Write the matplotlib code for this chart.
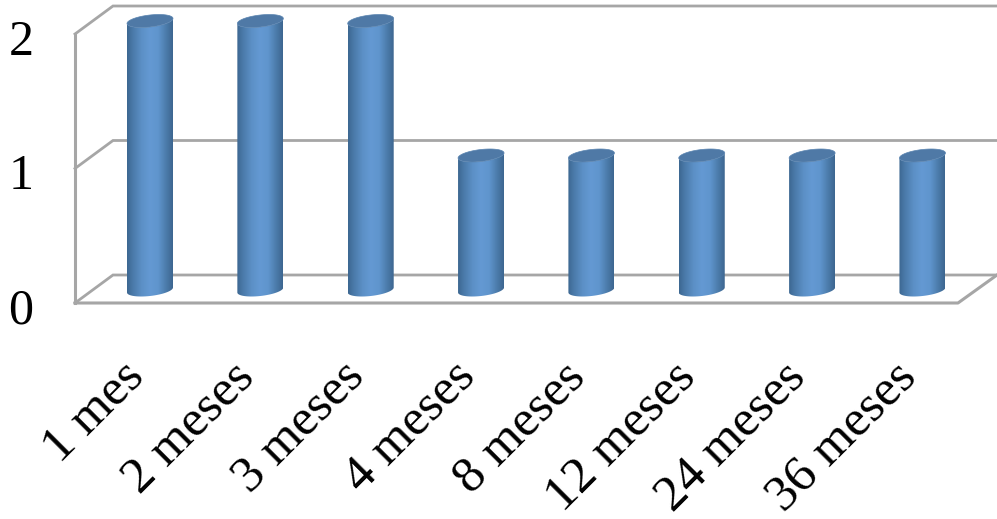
import numpy as np
import matplotlib
matplotlib.use("Agg")
import matplotlib.pyplot as plt
from matplotlib.colors import LinearSegmentedColormap
from matplotlib.patches import PathPatch, Polygon
from matplotlib.path import Path
from matplotlib.transforms import ScaledTranslation

categories = ["1 mes", "2 meses", "3 meses", "4 meses", "8 meses", "12 meses", "24 meses", "36 meses"]
values = [2, 2, 2, 1, 1, 1, 1, 1]
y_ticks = [0, 1, 2]

W, H = 997, 519
PX_X = 110.35   # pixels per category
PX_Y = 134.5    # pixels per unit of value
GRID = "#a6a6a6"

plt.rcParams["font.family"] = ["Liberation Serif", "DejaVu Serif"]

fig = plt.figure(figsize=(W / 100, H / 100), dpi=100)
ax = fig.add_axes([75 / W, (H - 303) / H, (W - 75) / W, 303 / H])
xlim = ((75 - 150) / PX_X, (W - 150) / PX_X)
ylim = (-13 / PX_Y, 290 / PX_Y)

# walls and floor of the 3d box
front = -13 / PX_Y
back = 15 / PX_Y
x0 = xlim[0]
xb = x0 + 38 / PX_X
xf = x0 + 883 / PX_X
for v in y_ticks:
    ax.plot([x0, xb, xlim[1]], [v + front, v + back, v + back], color=GRID, lw=2.0,
            clip_on=False, zorder=1, solid_joinstyle="miter")
ax.plot([x0, x0], [front, 2 + front], color=GRID, lw=2.2, clip_on=False, zorder=1)
ax.plot([x0, xf, xf + 39 / PX_X], [front, front, back], color=GRID, lw=2.2, clip_on=False, zorder=1)

# cylinder shading from left to right
shade = LinearSegmentedColormap.from_list("cyl", [
    (0.0, "#3c6791"), (0.12, "#4a79a8"), (0.32, "#5c90c6"), (0.5, "#6499d3"),
    (0.68, "#5f95cd"), (0.85, "#4c7cab"), (1.0, "#3d6690")])
grad = np.linspace(0, 1, 256).reshape(1, -1)

hw = 23 / PX_X
ry = 6 / PX_Y
tilt = 2.5 / PX_Y
t_low = np.linspace(np.pi, 2 * np.pi, 40)   # lower half of an ellipse, left to right
t_all = np.linspace(0, 2 * np.pi, 80)

for i, v in enumerate(values):
    bx = i + hw * np.cos(t_low)
    by = ry * np.sin(t_low) + tilt * np.cos(t_low)
    tx = i + hw * np.cos(t_low[::-1])
    ty = v + ry * np.sin(t_low[::-1]) + tilt * np.cos(t_low[::-1])
    # body: bottom rim, then back over the top rim
    pts = np.column_stack([np.r_[bx, tx], np.r_[by, ty]])
    body = PathPatch(Path(np.vstack([pts, pts[0]]), closed=True), fc="none", ec="none",
                     transform=ax.transData, zorder=2)
    ax.add_patch(body)
    im = ax.imshow(grad, cmap=shade, aspect="auto", extent=(i - hw, i + hw, -0.2, v + 0.2),
                   zorder=2, interpolation="bilinear")
    im.set_clip_path(body)
    lid = Polygon(np.column_stack([i + hw * np.cos(t_all),
                                   v + ry * np.sin(t_all) + tilt * np.cos(t_all)]),
                  closed=True, fc="#4f79a6", ec="#5a84b0", lw=0.5, zorder=3)
    ax.add_patch(lid)

ax.set_xlim(xlim)
ax.set_ylim(ylim)
for s in ax.spines.values():
    s.set_visible(False)
ax.patch.set_visible(False)

ax.set_xticks(range(len(categories)))
ax.set_xticklabels(categories, rotation=45, ha="right", rotation_mode="anchor", fontsize=37)
ax.set_yticks(y_ticks)
ax.set_yticklabels([str(v) for v in y_ticks], fontsize=36)
ax.tick_params(axis="both", length=0)
ax.tick_params(axis="x", pad=36)
ax.tick_params(axis="y", pad=30)
# value labels sit level with the front edge of the left wall
for lab in ax.get_yticklabels():
    lab.set_transform(lab.get_transform() + ScaledTranslation(0, -16 / 100, fig.dpi_scale_trans))
# category labels end left of their cylinders
for lab in ax.get_xticklabels():
    lab.set_transform(lab.get_transform() + ScaledTranslation(-30 / 100, 0, fig.dpi_scale_trans))

fig.savefig("out.png", dpi=100)
